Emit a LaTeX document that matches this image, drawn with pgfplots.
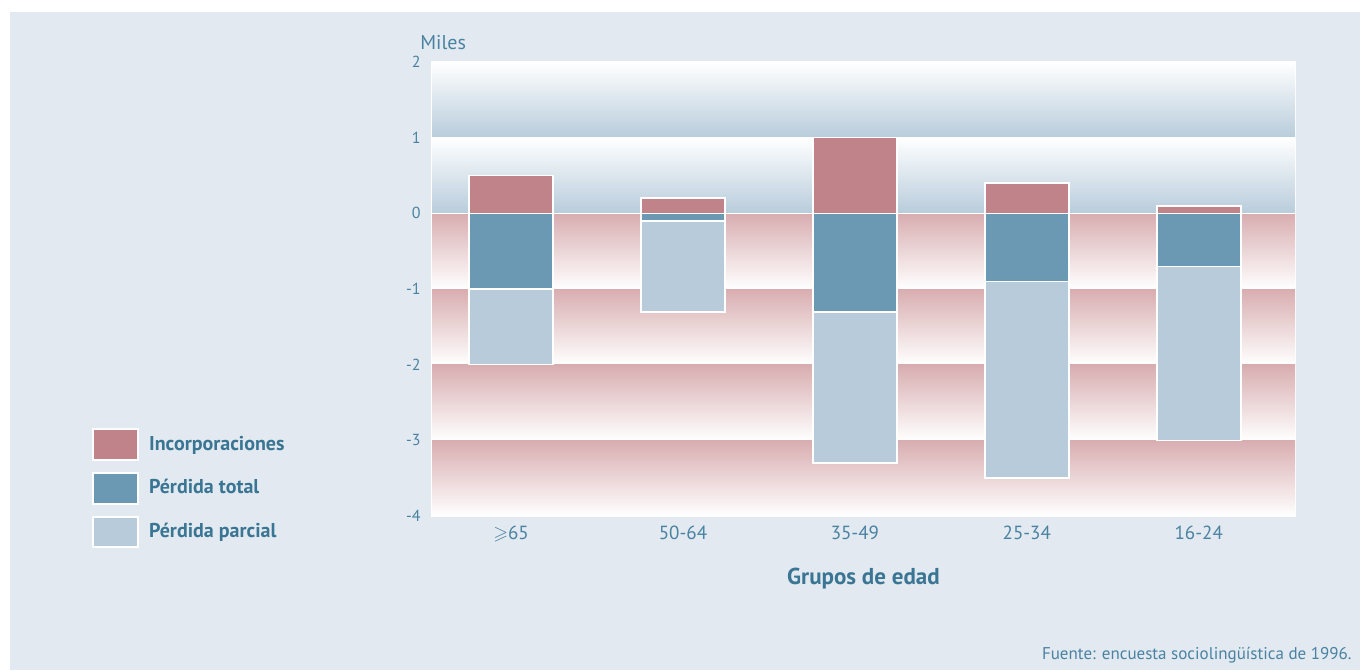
\documentclass[border=0pt]{standalone}
\usepackage{pgfplots}
\pgfplotsset{compat=1.18}
\usepackage{pgfplotstable}
\usepackage{amssymb}
\usepackage{fontspec}
\setmainfont{PT Sans}

\definecolor{bgcol}{HTML}{E2E9F0}
\definecolor{inccol}{HTML}{C0838A}
\definecolor{totcol}{HTML}{6B98B3}
\definecolor{parcol}{HTML}{B7CBDA}
\definecolor{bandblue}{HTML}{B8CCDB}
\definecolor{bandpink}{HTML}{D8ADB0}
\definecolor{tickcol}{HTML}{4A82A2}
\definecolor{labcol}{HTML}{3A7593}

% Miles de personas por grupo de edad
\pgfplotstableread{
x  inc   total  parcial
0  0.5   -1.0   -1.0
1  0.2   -0.1   -1.2
2  1.0   -1.3   -2.0
3  0.4   -0.9   -2.6
4  0.1   -0.7   -2.3
}\datos

\begin{document}
\begin{tikzpicture}
\fill[white] (0,0) rectangle (680pt,335pt);
\fill[bgcol] (5pt,0) rectangle (680pt,329pt);
\begin{axis}[
  at={(216pt,77pt)}, anchor=south west,
  width=431.5pt, height=227pt, scale only axis,
  xmin=-0.46, xmax=4.56, ymin=-4, ymax=2,
  axis line style={draw=white, line width=0.6pt},
  major tick length=0pt, tick style={draw=none},
  xtick={0,...,4},
  xticklabels={$\geqslant$65, 50-64, 35-49, 25-34, 16-24},
  ytick={-4,...,2},
  yticklabels={-4,-3,-2,-1,0,1,2},
  xticklabel style={font=\fontsize{9.5}{11}\selectfont, text=tickcol, anchor=north, inner sep=0pt, yshift=-5pt},
  yticklabel style={font=\fontsize{8}{10}\selectfont, text=tickcol, anchor=east, inner sep=0pt, xshift=-5.5pt},
  xlabel={Grupos de edad},
  xlabel style={font=\bfseries\fontsize{11.5}{13}\selectfont, text=labcol, anchor=north, inner sep=0pt, at={(axis description cs:0.5,0)}, yshift=-26pt},
  clip=false,
  reverse legend,
  legend cell align=left,
  legend style={at={(axis description cs:-0.395,0.194)}, anchor=north west,
    draw=none, fill=none, inner sep=0pt, row sep=5.5pt,
    nodes={inner sep=0pt, anchor=west},
    font=\bfseries\fontsize{10}{12}\selectfont, text=labcol,
    /tikz/every odd column/.append style={column sep=5pt}},
]
% franjas de fondo
\shade[top color=white, bottom color=bandblue] (axis cs:-0.46,1) rectangle (axis cs:4.56,2);
\shade[top color=white, bottom color=bandblue] (axis cs:-0.46,0) rectangle (axis cs:4.56,1);
\shade[top color=bandpink, bottom color=white] (axis cs:-0.46,-1) rectangle (axis cs:4.56,0);
\shade[top color=bandpink, bottom color=white] (axis cs:-0.46,-2) rectangle (axis cs:4.56,-1);
\shade[top color=bandpink, bottom color=white] (axis cs:-0.46,-3) rectangle (axis cs:4.56,-2);
\shade[top color=bandpink, bottom color=white] (axis cs:-0.46,-4) rectangle (axis cs:4.56,-3);
\draw[white, line width=0.6pt] (axis cs:-0.46,0) -- (axis cs:4.56,0);

\addplot[ybar, bar width=42pt, bar shift=0pt, fill=parcol, draw=white, line width=0.8pt,
  legend image code/.code={\fill[white] (0pt,-7.75pt) rectangle (23pt,7.75pt);
    \fill[parcol] (1pt,-6.75pt) rectangle (22pt,6.75pt);}]
  table[x=x, y expr=\thisrow{total}+\thisrow{parcial}] {\datos};
\addlegendentry{Pérdida parcial}
\addplot[ybar, bar width=42pt, bar shift=0pt, fill=totcol, draw=white, line width=0.8pt,
  legend image code/.code={\fill[white] (0pt,-7.75pt) rectangle (23pt,7.75pt);
    \fill[totcol] (1pt,-6.75pt) rectangle (22pt,6.75pt);}]
  table[x=x, y=total] {\datos};
\addlegendentry{Pérdida total}
\addplot[ybar, bar width=42pt, bar shift=0pt, fill=inccol, draw=white, line width=0.8pt,
  legend image code/.code={\fill[white] (0pt,-7.75pt) rectangle (23pt,7.75pt);
    \fill[inccol] (1pt,-6.75pt) rectangle (22pt,6.75pt);}]
  table[x=x, y=inc] {\datos};
\addlegendentry{Incorporaciones}
\end{axis}
\node[anchor=west, inner sep=0pt, text=tickcol, font=\fontsize{10}{12}\selectfont] at (210pt,313.5pt) {Miles};
\node[anchor=east, inner sep=0pt, text=tickcol, font=\fontsize{8.5}{10}\selectfont] at (676pt,7.5pt) {Fuente: encuesta sociolingüística de 1996.};
\end{tikzpicture}
\end{document}
